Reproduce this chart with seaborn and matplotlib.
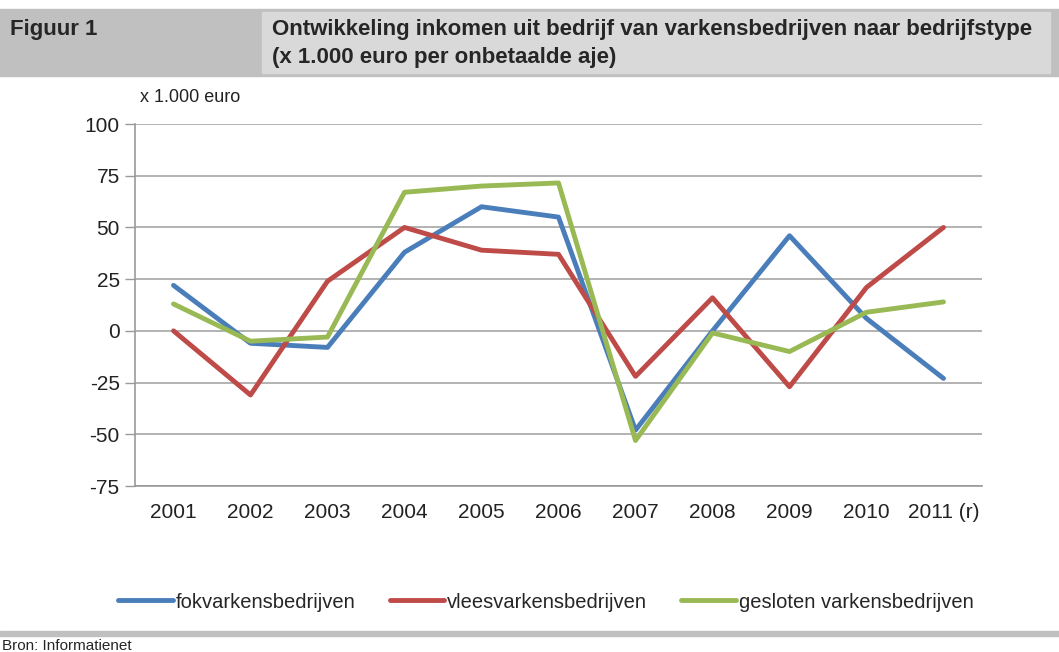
import seaborn as sns
import numpy as np
import matplotlib.pyplot as plt
import pandas as pd
from matplotlib.lines import Line2D

# data
years = ["2001", "2002", "2003", "2004", "2005", "2006", "2007", "2008", "2009", "2010", "2011 (r)"]
fok = [22, -6, -8, 38, 60, 55, -48, 0, 46, 6, -23]
vlees = [0, -31, 24, 50, 39, 37, -22, 16, -27, 21, 50]
gesloten = [13, -5, -3, 67, 70, 71.5, -53, -1, -10, 9, 14]
series_names = ["fokvarkensbedrijven", "vleesvarkensbedrijven", "gesloten varkensbedrijven"]
colors = ["#4a7ebb", "#be4b48", "#98b954"]
y_ticks = [-75, -50, -25, 0, 25, 50, 75, 100]

df = pd.DataFrame({
    "jaar": years * 3,
    "waarde": fok + vlees + gesloten,
    "type": [series_names[0]] * len(years) + [series_names[1]] * len(years) + [series_names[2]] * len(years),
})

sns.set_theme(style="white")
plt.rcParams['font.family'] = ['Liberation Sans', 'DejaVu Sans']

fig = plt.figure(figsize=(10.59, 6.52), dpi=100)

# header bar
fig.patches.append(plt.Rectangle((0, 1 - 76 / 652), 1, 67 / 652, transform=fig.transFigure,
                                 color="#c0c0c0", zorder=0))
fig.patches.append(plt.Rectangle((262 / 1059, 1 - 73 / 652), (1050 - 262) / 1059, 61 / 652,
                                 transform=fig.transFigure, color="#d9d9d9", zorder=0))
fig.text(10 / 1059, 1 - 30 / 652, "Figuur 1", fontweight="bold", fontsize=16,
         va="center", ha="left")
fig.text(272 / 1059, 1 - 30 / 652, "Ontwikkeling inkomen uit bedrijf van varkensbedrijven naar bedrijfstype",
         fontweight="bold", fontsize=16, va="center", ha="left")
fig.text(272 / 1059, 1 - 58 / 652, "(x 1.000 euro per onbetaalde aje)",
         fontweight="bold", fontsize=16, va="center", ha="left")

# bottom bar and source
fig.patches.append(plt.Rectangle((0, 1 - 636 / 652), 1, 5 / 652, transform=fig.transFigure,
                                 color="#c0c0c0", zorder=0))
fig.text(2 / 1059, 1 - 646 / 652, "Bron: Informatienet", fontsize=11,
         va="center", ha="left")

ax = fig.add_axes([135 / 1059, 1 - 486 / 652, (982 - 135) / 1059, (486 - 124) / 652])
sns.lineplot(data=df, x="jaar", y="waarde", hue="type", palette=colors, linewidth=3.5,
             sort=False, legend=False, ax=ax)

ax.set_xlim(-0.5, len(years) - 0.5)
ax.set_ylim(-75, 100)
ax.set_yticks(y_ticks)
ax.set_yticklabels([str(v) for v in y_ticks], fontsize=15, color="#222222")
ax.set_xticks(range(len(years)))
ax.set_xticklabels(years, fontsize=15, color="#222222")
ax.set_xticks(np.arange(-0.5, len(years)), minor=True)
ax.tick_params(axis="x", which="major", length=0, pad=12)
ax.tick_params(axis="x", which="minor", length=6, color="#999999", width=1, direction="out")
ax.tick_params(axis="y", length=7, color="#999999", width=1, direction="out", pad=4, left=True)
ax.set_xlabel("")
ax.set_ylabel("")
ax.yaxis.grid(True, color="#a6a6a6", linewidth=1.2)
ax.set_axisbelow(True)
for s in ["top", "right"]:
    ax.spines[s].set_visible(False)
for s in ["left", "bottom"]:
    ax.spines[s].set_color("#999999")
    ax.spines[s].set_linewidth(1.2)

fig.text(140 / 1059, 1 - 97 / 652, "x 1.000 euro", fontsize=13, va="center", ha="left", color="#222222")

handles = [Line2D([0], [0], color=c, lw=3.5) for c in colors]
fig.legend(handles, series_names, loc="center", bbox_to_anchor=(546 / 1059, 1 - 602 / 652),
           ncol=3, frameon=False, prop={"size": 14.5}, handlelength=2.7,
           handletextpad=0.15, columnspacing=1.7)

fig.savefig("out.png", dpi=100)
